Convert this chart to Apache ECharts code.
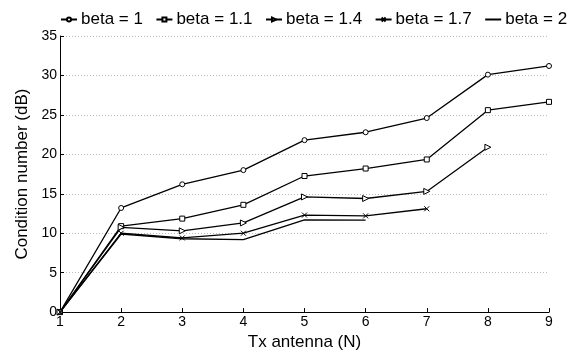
<!DOCTYPE html>
<html>
<head>
<meta charset="utf-8">
<script src="https://cdn.jsdelivr.net/npm/echarts@6/dist/echarts.min.js"></script>
<style>
  html, body { margin: 0; padding: 0; background: #fff; }
  #chart { width: 576px; height: 356px; }
</style>
</head>
<body>
<div id="chart"></div>
<script>
// values
const txAntenna = [1, 2, 3, 4, 5, 6, 7, 8, 9];
const beta1   = [0, 13.2, 16.2, 18.0, 21.8, 22.8, 24.6, 30.1, 31.2];
const beta11  = [0, 10.9, 11.85, 13.6, 17.25, 18.2, 19.35, 25.6, 26.65];
const beta14  = [0, 10.75, 10.3, 11.3, 14.6, 14.4, 15.3, 20.9];
const beta17  = [0, 10.0, 9.4, 10.0, 12.3, 12.2, 13.1];
const beta2   = [0, 9.9, 9.3, 9.2, 11.7, 11.65];
const seriesNames = ['beta = 1', 'beta = 1.1', 'beta = 1.4', 'beta = 1.7', 'beta = 2'];
const yTicks = [0, 5, 10, 15, 20, 25, 30, 35];

const font = 'Liberation Sans, Arial, sans-serif';
const crossPath = 'path://M0,0L10,10M10,0L0,10';

function pairs(vals) {
  return vals.map((v, i) => [txAntenna[i], v]);
}

function mkSeries(name, vals, symbol, size, rotate) {
  let item = { color: '#fff', borderColor: '#000', borderWidth: 1 };
  if (symbol === crossPath) item.color = 'none';
  if (symbol === 'none') {
    // plain line: keep an invisible marker so the legend icon stays a bare line
    symbol = 'circle';
    item = { color: 'none', borderColor: 'none', borderWidth: 0 };
    size = 0;
  }
  return {
    name: name,
    type: 'line',
    data: pairs(vals),
    symbol: symbol,
    symbolSize: size,
    symbolRotate: rotate || 0,
    showSymbol: size > 0,
    lineStyle: { color: '#000', width: 1.3 },
    itemStyle: item,
    emphasis: { disabled: true },
    animation: false
  };
}

const chart = echarts.init(document.getElementById('chart'));
chart.setOption({
  animation: false,
  legend: {
    top: 11,
    left: 60,
    width: 530,
    padding: 0,
    itemWidth: 16,
    itemHeight: 5,
    itemGap: 12.5,
    data: seriesNames,
    textStyle: { fontFamily: font, fontSize: 17, color: '#000', padding: [0, 0, 0, -1] }
  },
  grid: { left: 60, right: 27, top: 36, bottom: 37 },
  xAxis: {
    type: 'value',
    min: 1, max: 9, interval: 1,
    name: 'Tx antenna (N)',
    nameLocation: 'middle',
    nameGap: 13,
    nameTextStyle: { fontFamily: font, fontSize: 17, color: '#000', verticalAlign: 'top' },
    axisLine: { lineStyle: { color: '#000', width: 1 } },
    axisTick: { inside: true, length: 4, lineStyle: { color: '#000' } },
    axisLabel: { fontFamily: font, fontSize: 14, color: '#000', margin: 3 },
    splitLine: { show: false }
  },
  yAxis: {
    type: 'value',
    min: yTicks[0], max: yTicks[yTicks.length - 1], interval: 5,
    name: 'Condition number (dB)',
    nameLocation: 'middle',
    nameGap: 28,
    nameTextStyle: { fontFamily: font, fontSize: 17, color: '#000' },
    axisLine: { show: true, lineStyle: { color: '#000', width: 1 } },
    axisTick: { show: true, inside: true, length: 4, lineStyle: { color: '#000' } },
    axisLabel: { fontFamily: font, fontSize: 14, color: '#000', margin: 3 },
    splitLine: { show: true, lineStyle: { color: '#bbb', type: [1, 2], width: 1 } }
  },
  series: [
    mkSeries(seriesNames[0], beta1, 'circle', 5),
    mkSeries(seriesNames[1], beta11, 'rect', 5),
    mkSeries(seriesNames[2], beta14, 'triangle', 6, -90),
    mkSeries(seriesNames[3], beta17, crossPath, 5),
    mkSeries(seriesNames[4], beta2, 'none', 0)
  ]
});
</script>
</body>
</html>
